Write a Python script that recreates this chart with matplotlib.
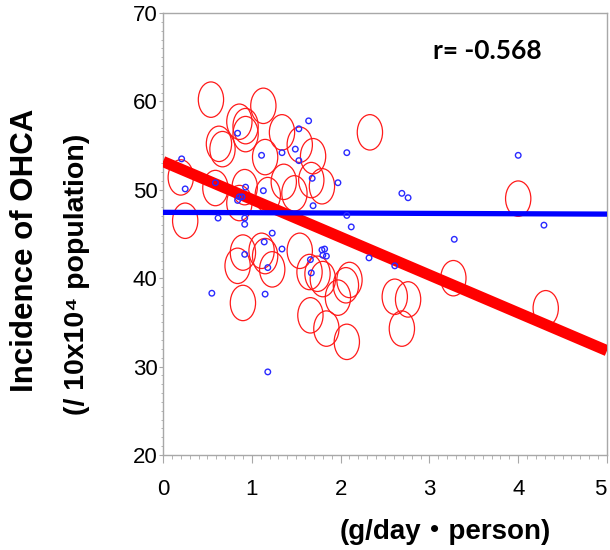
import matplotlib

matplotlib.use("Agg")
import matplotlib.pyplot as plt
from matplotlib.font_manager import fontManager
from matplotlib.path import Path
from matplotlib.ticker import MultipleLocator
from matplotlib.transforms import Affine2D, ScaledTranslation

# red bubbles: incidence of OHCA by prefecture
red_x = [0.54, 1.13, 0.86, 0.93, 0.93, 0.63, 0.67, 1.34, 1.54, 1.69, 1.15, 2.33,
         0.20, 0.59, 0.92, 0.86, 1.36, 1.18, 1.48, 1.67, 1.79, 0.25, 0.90, 0.84,
         1.11, 1.15, 1.23, 0.90, 1.54, 1.65, 1.74, 1.80, 2.10, 2.06, 1.97, 1.66,
         1.84, 2.07, 2.61, 2.76, 2.69, 3.27, 4.00, 4.31]
red_y = [60.2, 59.5, 57.7, 57.2, 56.3, 55.2, 54.6, 56.5, 55.1, 53.8, 53.7, 56.5,
         51.4, 50.2, 50.3, 48.5, 50.9, 49.4, 49.6, 51.1, 50.4, 46.5, 42.9, 41.4,
         43.1, 42.5, 41.0, 37.2, 43.1, 40.7, 40.5, 39.9, 39.8, 39.2, 37.8, 35.8,
         34.3, 32.8, 37.9, 37.6, 34.3, 40.0, 49.0, 36.6]

# blue small points
blue_x = [1.64, 0.84, 1.53, 1.11, 1.34, 1.49, 1.53, 2.07, 0.21, 1.68, 1.97, 0.25,
          0.59, 0.93, 1.13, 0.86, 0.89, 0.84, 1.69, 0.62, 0.92, 0.92, 2.12, 1.23,
          1.14, 1.34, 1.79, 1.82, 1.80, 1.84, 1.66, 2.32, 0.92, 1.18, 0.55, 1.15,
          1.18, 1.67, 2.61, 4.00, 2.69, 2.76, 3.28, 4.29, 2.07]
blue_y = [57.8, 56.4, 56.9, 53.9, 54.2, 54.6, 53.3, 54.2, 53.5, 51.3, 50.8, 50.1,
          50.8, 50.3, 49.9, 49.2, 49.2, 48.8, 48.2, 46.8, 46.8, 46.1, 45.8, 45.1,
          44.1, 43.3, 43.2, 43.3, 42.6, 42.5, 42.1, 42.3, 42.7, 41.2, 38.3, 38.2,
          29.4, 40.6, 41.4, 53.9, 49.6, 49.1, 44.4, 46.0, 47.1]

# fitted lines (intercept, slope)
red_fit = (53.2, -4.28)
blue_fit = (47.45, -0.04)

x_ticks = [0, 1, 2, 3, 4, 5]
y_ticks = [20, 30, 40, 50, 60, 70]
r_text = "r= -0.568"

# narrow face for the tick numbers if one is installed
installed = {f.name for f in fontManager.ttflist}
narrow = [n for n in ["Liberation Sans Narrow", "DejaVu Sans Condensed"] if n in installed]
tick_font = (narrow or ["Liberation Sans"])[0]
tick_size = 17 if narrow else 16
bold_font = ["Liberation Sans", "Noto Sans CJK JP", "DejaVu Sans"]

fig = plt.figure(figsize=(6.1, 5.5), dpi=100)
ax = fig.add_axes([163 / 610, 95 / 550, 444 / 610, 442 / 550])

ellipse = Affine2D().scale(0.714, 1.0).transform_path(Path.unit_circle())
ax.scatter(red_x, red_y, s=650, marker=ellipse, facecolors="none",
           edgecolors="#ff1a1a", linewidths=0.9, zorder=2)

xs = [0, 5]
ax.plot(xs, [red_fit[0] + red_fit[1] * x for x in xs], color="#ff0000", lw=8,
        solid_capstyle="butt", zorder=3)
ax.plot(xs, [blue_fit[0] + blue_fit[1] * x for x in xs], color="#0000ff", lw=3.8,
        solid_capstyle="butt", zorder=4)
ax.scatter(blue_x, blue_y, s=16, facecolors="none", edgecolors="#2a2aff",
           linewidths=1.0, zorder=5)

ax.set_xlim(0, 5)
ax.set_ylim(20, 70)
ax.set_xticks(x_ticks)
ax.set_yticks(y_ticks)
ax.xaxis.set_minor_locator(MultipleLocator(0.1))
ax.yaxis.set_minor_locator(MultipleLocator(1))
for s in ax.spines.values():
    s.set_color("#a8a8a8")
    s.set_linewidth(1.0)
ax.tick_params(axis="x", which="major", length=6, width=0.8, color="#a8a8a8", pad=11)
ax.tick_params(axis="x", which="minor", length=3, width=0.6, color="#a8a8a8")
ax.tick_params(axis="y", which="major", length=3, width=0.8, color="#a8a8a8", pad=1)
ax.tick_params(axis="y", which="minor", length=1.5, width=0.6, color="#a8a8a8")
for lab in ax.get_xticklabels() + ax.get_yticklabels():
    lab.set_family(tick_font)
    lab.set_fontsize(tick_size)

# the last x label sits at the figure edge; nudge it in a little
if not narrow:
    last = ax.xaxis.get_major_ticks()[-1].label1
    last.set_transform(last.get_transform() + ScaledTranslation(-5 / 72, 0, fig.dpi_scale_trans))

fig.text(25 / 610, 1 - 250 / 550, "Incidence of OHCA", rotation=90, ha="center",
         va="center", fontsize=22.5, fontweight="bold", family=bold_font)
fig.text(77 / 610, 1 - 274 / 550, "(/ 10x10\u2074 population)", rotation=90,
         ha="center", va="center", fontsize=20.5, fontweight="bold", family=bold_font)
fig.text(445 / 610, 1 - 532 / 550, "(g/day\u30fbperson)", ha="center", va="center",
         fontsize=20, fontweight="bold", family=bold_font)
fig.text(487 / 610, 1 - 51 / 550, r_text, ha="center", va="center", fontsize=19,
         fontweight="bold", family=["Lato", "DejaVu Sans"])

fig.savefig("out.png", dpi=100)
plt.close(fig)
